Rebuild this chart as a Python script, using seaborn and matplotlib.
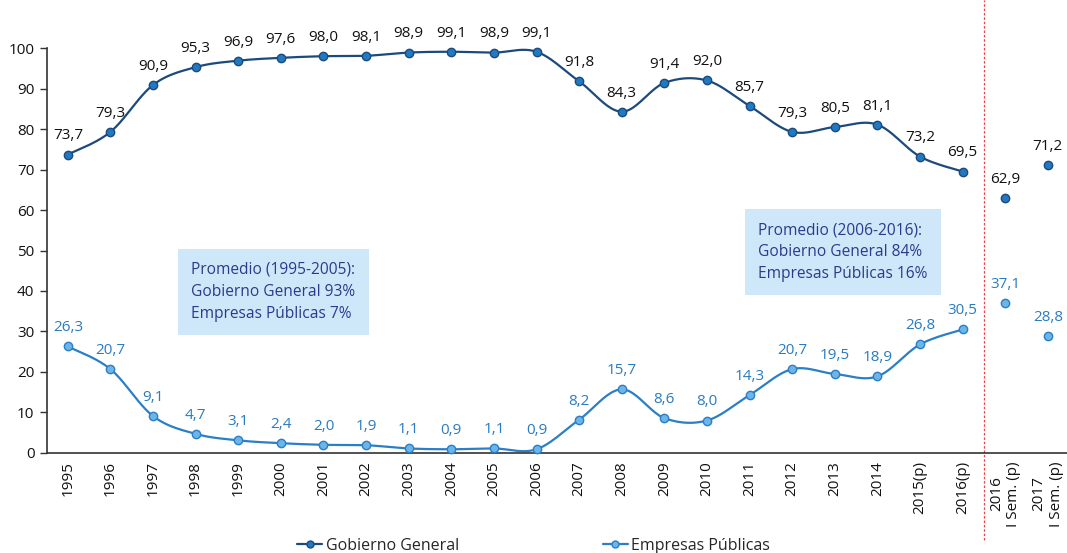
import matplotlib
matplotlib.use("Agg")
import matplotlib.pyplot as plt
import numpy as np
import pandas as pd
import seaborn as sns

# Data
categorias = ['1995', '1996', '1997', '1998', '1999', '2000', '2001', '2002', '2003', '2004',
              '2005', '2006', '2007', '2008', '2009', '2010', '2011', '2012', '2013', '2014',
              '2015(p)', '2016(p)', '2016\nI Sem. (p)', '2017\nI Sem. (p)']
gobierno = [73.7, 79.3, 90.9, 95.3, 96.9, 97.6, 98.0, 98.1, 98.9, 99.1, 98.9, 99.1,
            91.8, 84.3, 91.4, 92.0, 85.7, 79.3, 80.5, 81.1, 73.2, 69.5, 62.9, 71.2]
empresas = [26.3, 20.7, 9.1, 4.7, 3.1, 2.4, 2.0, 1.9, 1.1, 0.9, 1.1, 0.9,
            8.2, 15.7, 8.6, 8.0, 14.3, 20.7, 19.5, 18.9, 26.8, 30.5, 37.1, 28.8]
n_anual = 22  # years joined by the line; the two semesters are loose points

c_gg_line, c_gg_fill = '#1c4a7c', '#1f7ac2'
c_ep_line, c_ep_fill = '#2a7fc6', '#6db4e8'


def suavizar(x, y, pasos=24):
    # bezier smoothing like the Excel "smoothed line"
    x = np.asarray(x, float)
    y = np.asarray(y, float)
    P = np.column_stack([x, y])
    Pe = np.vstack([P[0], P, P[-1]])
    out = []
    t = np.linspace(0, 1, pasos)[:, None]
    for i in range(len(P) - 1):
        p0, p3 = Pe[i + 1], Pe[i + 2]
        p1 = p0 + (Pe[i + 2] - Pe[i]) / 6
        p2 = p3 - (Pe[i + 3] - Pe[i + 1]) / 6
        seg = (1 - t) ** 3 * p0 + 3 * (1 - t) ** 2 * t * p1 + 3 * (1 - t) * t ** 2 * p2 + t ** 3 * p3
        out.append(seg if i == 0 else seg[1:])
    s = np.vstack(out)
    return s[:, 0], s[:, 1]


sns.set_style("white")
plt.rcParams['font.family'] = ['Open Sans', 'DejaVu Sans']

fig = plt.figure(figsize=(10.67, 5.53), dpi=100)
ax = fig.add_axes([0.044, 0.181, 0.956, 0.732])

xi = np.arange(len(categorias))

for serie, cl, cf, cm in [(gobierno, c_gg_line, c_gg_fill, c_gg_line),
                          (empresas, c_ep_line, c_ep_fill, c_ep_line)]:
    sx, sy = suavizar(xi[:n_anual], serie[:n_anual])
    sns.lineplot(x=sx, y=sy, ax=ax, color=cl, linewidth=1.6, sort=False, estimator=None)
    ax.plot(xi, serie, linestyle='none', marker='o', markersize=6,
            markerfacecolor=cf, markeredgecolor=cm, markeredgewidth=1.0, clip_on=False, zorder=5)

for i in xi:
    ax.annotate(f"{gobierno[i]:.1f}".replace('.', ','), (i, gobierno[i]), xytext=(0, 8),
                textcoords='offset points', ha='center', va='bottom', fontsize=11, color='#111111')
    ax.annotate(f"{empresas[i]:.1f}".replace('.', ','), (i, empresas[i]), xytext=(0, 8),
                textcoords='offset points', ha='center', va='bottom', fontsize=11, color='#2a7bc0')

ax.set_xlim(-0.49, 23.45)
ax.set_ylim(0, 100)
ax.set_yticks(range(0, 101, 10))
ax.set_xticks(xi)
ax.set_xticklabels(categorias, rotation=90, multialignment='center')
ax.tick_params(axis='y', length=5, width=1, color='#333333', labelsize=11, pad=4, direction='out', left=True)
ax.tick_params(axis='x', length=0, labelsize=11, pad=6)
for lab in ax.get_xticklabels() + ax.get_yticklabels():
    lab.set_color('#111111')

sns.despine(ax=ax, top=True, right=True)
for s in ['left', 'bottom']:
    ax.spines[s].set_color('#333333')
    ax.spines[s].set_linewidth(1.2)

# red dashed separator between annual data and semesters
ax.axvline(21.5, ymin=-0.215, ymax=1.118, color='#e8434a', linestyle=(0, (2, 1.5)),
           linewidth=0.9, clip_on=False)

caja = dict(boxstyle='square,pad=0.85', facecolor='#cfe8f9', edgecolor='none')
ax.text(2.9, 39.8, "Promedio (1995-2005):\nGobierno General 93%\nEmpresas Públicas 7%",
        fontsize=11.2, color='#2b3a8c', va='center', ha='left', linespacing=1.5, bbox=caja)
ax.text(16.2, 49.6, "Promedio (2006-2016):\nGobierno General 84%\nEmpresas Públicas 16%",
        fontsize=11.2, color='#2b3a8c', va='center', ha='left', linespacing=1.5, bbox=caja)

h1 = plt.Line2D([], [], color=c_gg_line, marker='o', markersize=5, markerfacecolor=c_gg_fill,
                markeredgecolor=c_gg_line, linewidth=1.6)
h2 = plt.Line2D([], [], color=c_ep_line, marker='o', markersize=5, markerfacecolor=c_ep_fill,
                markeredgecolor=c_ep_line, linewidth=1.6)
fig.legend([h1, h2], ['Gobierno General', 'Empresas Públicas'], loc='lower center',
           bbox_to_anchor=(0.5, -0.027), ncol=2, frameon=False, fontsize=11.5,
           handlelength=1.6, handletextpad=0.2, columnspacing=9)

fig.savefig('out.png', dpi=100)
